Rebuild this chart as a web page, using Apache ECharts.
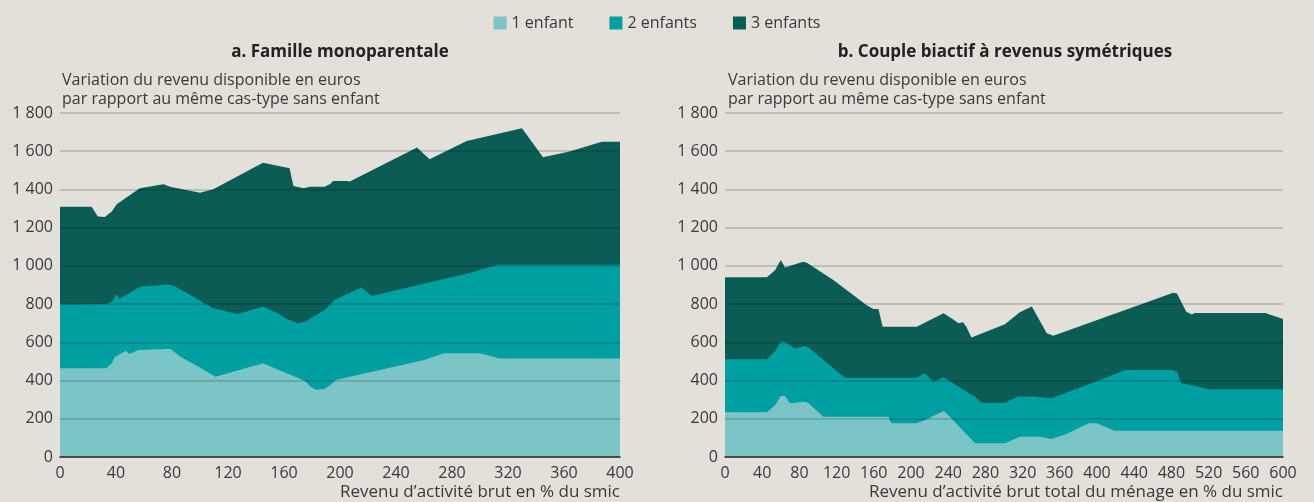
<!DOCTYPE html>
<html>
<head>
<meta charset="utf-8">
<script src="https://cdn.jsdelivr.net/npm/echarts@6/dist/echarts.min.js"></script>
<style>
  html, body { margin: 0; padding: 0; background: #e3dfd9; }
  #main { width: 1314px; height: 502px; }
</style>
</head>
<body>
<div id="main"></div>
<script>
// noms des séries
var seriesNames = ['1 enfant', '2 enfants', '3 enfants'];
var colors = ['#7cc5c7', '#009fa1', '#0b5c55'];

// a. Famille monoparentale : [revenu en % du smic, variation en euros]
var mono1 = [[0,464],[33,464],[37,490],[39,522],[47,556],[49.5,539],[56,560],[76,565],[79,565],[86,525],[98,476],[111,420],[145,490],[175,398],[179,368],[183,352],[189,356],[193,377],[197,403],[260,508],[274,543],[300,543],[314,515],[400,515]];
var mono2 = [[0,799],[33,800],[38,818],[40,853],[42.4,827],[57,891],[77,902],[81,898],[89,865],[109.5,778],[115.5,769],[121,757],[127,748],[145,787],[157,747],[161,726],[170,700],[175,708],[189,769],[196,821],[215.5,888],[222.6,842],[293,964],[312,1006],[400,1006]];
var mono3 = [[0,1310],[22.6,1310],[24,1300],[27,1258],[32,1256],[37,1284],[40.5,1322],[57,1406],[74,1427],[78.6,1414],[100,1383],[109.5,1401],[145,1540],[164,1511],[166.7,1418],[174,1406],[178.6,1414],[189,1414],[193,1428],[195,1444],[205,1444],[207,1441],[255,1619],[264,1558],[290.5,1653],[330,1720],[345,1568],[364,1598],[387,1650],[400,1650]];

// b. Couple biactif à revenus symétriques
var couple1 = [[0,234],[45,234],[54,272],[60,319],[64.5,319],[70,281],[86,289],[89.6,283],[105.7,211],[175.6,211],[179,176],[206,176],[217,197],[235,241],[240,220],[269,72],[301,72],[317,106],[339,106],[351,94],[367,120],[391,176],[400,176],[419,138],[600,138]];
var couple2 = [[0,511],[45,511],[54,556],[60,603],[64.5,603],[68,591],[75,568],[86,581],[89.6,574],[129,415],[206,415],[215,438],[224,394],[235,417],[269,314],[276,284],[301,284],[315,316],[331,316],[351,307],[403,403],[430,455],[480,455],[486,446],[491,386],[500,378],[520,354],[600,354]];
var couple3 = [[0,940],[45,940],[54,979],[60,1031],[64.5,991],[84,1022],[88,1017],[116.5,926],[152,795],[159.5,774],[165,774],[169.5,682],[206,682],[210,691],[235,752],[245.5,720],[251,700],[256,705],[259.5,682],[265,625],[301,694],[317,757],[330,787],[335,743],[346,647],[353,635],[482,860],[486,856],[496,760],[502,746],[505,753],[581,753],[600,722]];

var textColor = '#3a3a3a';
var font = 'Open Sans';

function thousands(v) {
    return String(v).replace(/\B(?=(\d{3})+$)/g, ' ');
}

function area(name, data, idx) {
    var k = seriesNames.indexOf(name);
    return {
        name: name,
        type: 'line',
        xAxisIndex: idx,
        yAxisIndex: idx,
        data: data,
        symbol: 'none',
        silent: true,
        lineStyle: { width: 0 },
        areaStyle: { color: colors[k], opacity: 1 },
        itemStyle: { color: colors[k] }
    };
}

function yAxisOf(idx) {
    return {
        type: 'value',
        gridIndex: idx,
        min: 0, max: 1800, interval: 200,
        z: 5,
        axisLine: { show: false },
        axisTick: { show: false },
        splitLine: { lineStyle: { color: 'rgba(0,0,0,0.2)', width: 1.5 } },
        axisLabel: { formatter: thousands, color: textColor, fontSize: 16, fontFamily: font, margin: 7 }
    };
}

function xAxisOf(idx, max) {
    return {
        type: 'value',
        gridIndex: idx,
        min: 0, max: max, interval: 40,
        z: 5,
        axisLine: { lineStyle: { color: '#2e2e2e', width: 1.5 } },
        axisTick: { show: false },
        splitLine: { show: false },
        axisLabel: { color: textColor, fontSize: 16, fontFamily: font, margin: 8 }
    };
}

var chart = echarts.init(document.getElementById('main'));

var subText = 'Variation du revenu disponible en euros\npar rapport au même cas-type sans enfant';

var option = {
    backgroundColor: '#e3dfd9',
    animation: false,
    legend: {
        data: seriesNames,
        top: 10,
        left: 'center',
        icon: 'rect',
        itemWidth: 13,
        itemHeight: 13,
        itemGap: 36,
        textStyle: { color: textColor, fontSize: 16, fontFamily: font }
    },
    title: [
        { text: 'a. Famille monoparentale', left: 340, top: 44, padding: 0, textAlign: 'center',
          textStyle: { fontSize: 17, fontWeight: 'bold', color: '#222', fontFamily: font } },
        { text: 'b. Couple biactif à revenus symétriques', left: 1005, top: 44, padding: 0, textAlign: 'center',
          textStyle: { fontSize: 17, fontWeight: 'bold', color: '#222', fontFamily: font } },
        { text: subText, left: 62, top: 71, padding: 0,
          textStyle: { fontSize: 16, fontWeight: 'normal', color: textColor, fontFamily: font, lineHeight: 19 } },
        { text: subText, left: 728, top: 71, padding: 0,
          textStyle: { fontSize: 16, fontWeight: 'normal', color: textColor, fontFamily: font, lineHeight: 19 } }
    ],
    graphic: [
        { type: 'text', right: 694, top: 484,
          style: { text: 'Revenu d’activité brut en % du smic', fill: textColor, font: '17px "Open Sans"' } },
        { type: 'text', right: 31, top: 484,
          style: { text: 'Revenu d’activité brut total du ménage en % du smic', fill: textColor, font: '17px "Open Sans"' } }
    ],
    grid: [
        { left: 60, right: 694, top: 113, bottom: 45 },
        { left: 725, right: 31, top: 113, bottom: 45 }
    ],
    xAxis: [xAxisOf(0, 400), xAxisOf(1, 600)],
    yAxis: [yAxisOf(0), yAxisOf(1)],
    series: [
        area('3 enfants', mono3, 0),
        area('2 enfants', mono2, 0),
        area('1 enfant', mono1, 0),
        area('3 enfants', couple3, 1),
        area('2 enfants', couple2, 1),
        area('1 enfant', couple1, 1)
    ]
};

chart.setOption(option);
</script>
</body>
</html>
